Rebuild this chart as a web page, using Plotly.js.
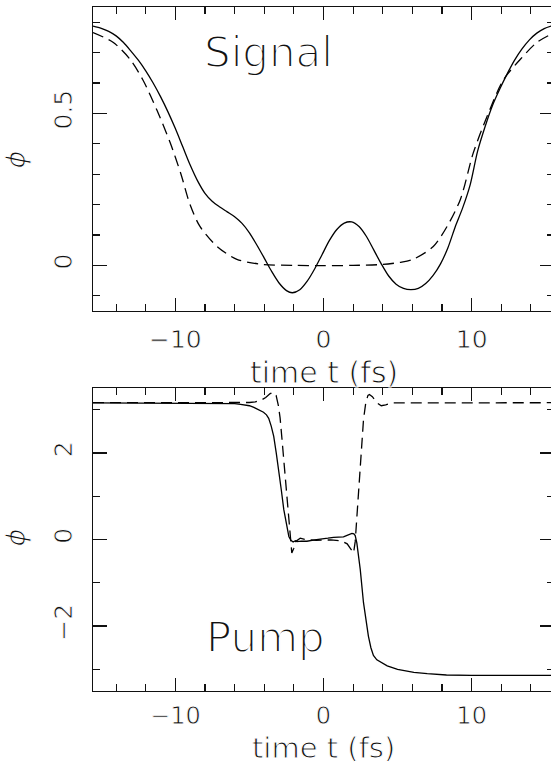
<!DOCTYPE html>
<html>
<head>
<meta charset="utf-8">
<script src="https://cdn.plot.ly/plotly-3.0.1.min.js"></script>
<style>
  html, body { margin: 0; padding: 0; background: #fff; overflow: hidden; }
  #chart { width: 554px; height: 769px; }
  /* thin, plotter-style lettering: a white outline painted over the glyph fill */
  #chart .xtick text, #chart .ytick text,
  #chart .x2tick text, #chart .y2tick text { stroke: #fff; stroke-width: 0.8px; }
  #chart g.annotation[data-index="0"] text,
  #chart g.annotation[data-index="1"] text { stroke: #fff; stroke-width: 1.9px; }
  #chart g.annotation[data-index="2"] text,
  #chart g.annotation[data-index="3"] text,
  #chart g.annotation[data-index="4"] text,
  #chart g.annotation[data-index="5"] text { stroke: #fff; stroke-width: 1.0px; }
</style>
</head>
<body>
<div id="chart"></div>
<script>
// Signal phase: solid and dashed curves
const tSignalSolid = [-15.56, -15.0, -14.5, -14.0, -13.5, -13.0, -12.5, -12.0, -11.5, -11.0, -10.5, -10.0, -9.5, -9.0, -8.5, -8.0, -7.5, -7.0, -6.5, -6.0, -5.5, -5.0, -4.5, -4.0, -3.5, -3.0, -2.5, -2.1, -1.6, -1.1, -0.6, -0.1, 0.4, 0.9, 1.4, 1.9, 2.4, 2.9, 3.4, 3.9, 4.4, 4.9, 5.4, 5.9, 6.4, 6.9, 7.4, 7.9, 8.4, 8.9, 9.4, 9.9, 10.4, 10.9, 11.4, 11.9, 12.4, 12.9, 13.4, 13.9, 14.4, 14.9, 15.56];
const phiSignalSolid = [0.787, 0.780, 0.770, 0.755, 0.733, 0.705, 0.675, 0.640, 0.600, 0.555, 0.505, 0.450, 0.390, 0.330, 0.278, 0.237, 0.210, 0.192, 0.176, 0.160, 0.138, 0.107, 0.067, 0.024, -0.020, -0.058, -0.083, -0.090, -0.080, -0.052, -0.012, 0.035, 0.082, 0.118, 0.139, 0.143, 0.128, 0.095, 0.050, 0.005, -0.035, -0.062, -0.076, -0.080, -0.076, -0.060, -0.033, 0.005, 0.058, 0.128, 0.190, 0.265, 0.375, 0.455, 0.525, 0.580, 0.630, 0.675, 0.712, 0.742, 0.764, 0.779, 0.790];

const tSignalDashed = [-15.56, -14.21, -13.06, -12.18, -11.24, -10.36, -9.62, -9.01, -8.34, -7.18, -5.85, -4.07, -2.0, 0.0, 2.0, 4.0, 5.18, 6.06, 7.41, 8.34, 9.24, 10.11, 11.04, 12.14, 13.29, 14.42, 15.56];
const phiSignalDashed = [0.766, 0.734, 0.678, 0.609, 0.510, 0.405, 0.300, 0.200, 0.128, 0.062, 0.020, 0.003, 0.000, -0.001, 0.000, 0.003, 0.010, 0.020, 0.062, 0.128, 0.217, 0.370, 0.490, 0.610, 0.678, 0.734, 0.765];

// Pump phase: solid and dashed curves
const tPumpSolid = [-15.56, -10.0, -7.0, -6.0, -5.6, -5.0, -4.7, -4.3, -4.05, -3.85, -3.7, -3.53, -3.36, -3.19, -3.02, -2.85, -2.68, -2.51, -2.34, -2.2, -2.05, -1.9, -1.8, -1.5, -1.12, -0.6, -0.22, 0.3, 0.68, 1.0, 1.35, 1.55, 1.69, 1.92, 2.05, 2.14, 2.25, 2.36, 2.48, 2.7, 2.85, 3.03, 3.2, 3.37, 3.6, 4.0, 4.3, 5.0, 6.1, 7.0, 8.3, 10.0, 15.56];
const phiPumpSolid = [3.155, 3.155, 3.15, 3.14, 3.12, 3.09, 3.05, 2.99, 2.94, 2.88, 2.80, 2.62, 2.38, 2.00, 1.61, 1.15, 0.69, 0.33, 0.07, -0.02, -0.06, -0.03, -0.05, -0.04, -0.04, -0.01, 0.00, 0.03, 0.05, 0.05, 0.06, 0.09, 0.115, 0.14, 0.13, 0.09, -0.08, -0.38, -0.69, -1.46, -1.85, -2.23, -2.50, -2.68, -2.78, -2.87, -2.92, -3.00, -3.07, -3.10, -3.13, -3.14, -3.14];

const tPumpDashed = [-15.56, -6.0, -5.0, -4.6, -4.2, -3.9, -3.6, -3.4, -3.2, -3.05, -2.93, -2.81, -2.7, -2.58, -2.47, -2.36, -2.25, -2.14, -2.0, -1.9, -1.57, -1.2, -0.5, 0.5, 1.2, 1.6, 1.8, 2.03, 2.14, 2.25, 2.36, 2.48, 2.6, 2.7, 2.85, 3.0, 3.1, 3.3, 3.6, 3.9, 4.2, 4.6, 15.56];
const phiPumpDashed = [3.16, 3.16, 3.165, 3.18, 3.22, 3.28, 3.37, 3.40, 3.33, 3.10, 2.81, 2.35, 1.90, 1.40, 0.85, 0.40, 0.05, -0.31, -0.20, -0.05, 0.03, 0.00, -0.02, -0.01, -0.03, -0.10, -0.20, -0.31, -0.05, 0.46, 1.05, 1.62, 2.20, 2.77, 3.15, 3.33, 3.35, 3.30, 3.16, 3.09, 3.11, 3.155, 3.16];

const xTitle = 'time t (fs)';
const yTitle = '<i>ϕ</i>';

const FONT = 'DejaVu Sans, Liberation Sans, sans-serif';
const INK = '#111';
const thinFont = (size) => ({ family: FONT, size: size, color: INK });

const solidLine = { color: '#000', width: 1.3 };
const dashedLine = { color: '#000', width: 1.3, dash: '11px,6px' };

const traces = [
  { x: tSignalSolid, y: phiSignalSolid, xaxis: 'x', yaxis: 'y', mode: 'lines',
    line: Object.assign({ shape: 'spline', smoothing: 0.8 }, solidLine) },
  { x: tSignalDashed, y: phiSignalDashed, xaxis: 'x', yaxis: 'y', mode: 'lines',
    line: Object.assign({ shape: 'spline', smoothing: 0.8 }, dashedLine) },
  { x: tPumpSolid, y: phiPumpSolid, xaxis: 'x2', yaxis: 'y2', mode: 'lines', line: solidLine },
  { x: tPumpDashed, y: phiPumpDashed, xaxis: 'x2', yaxis: 'y2', mode: 'lines', line: dashedLine }
];

const frame = {
  showline: true, linecolor: INK, linewidth: 1.3, mirror: 'ticks',
  ticks: 'inside', tickcolor: INK, tickwidth: 1.2,
  showgrid: false, zeroline: false, fixedrange: true,
  tickfont: thinFont(25)
};

function xAxis(anchor, standoff, fontSize) {
  return Object.assign({}, frame, {
    anchor: anchor, range: [-15.56, 15.56], tick0: 0, dtick: 10, ticklen: 13,
    ticklabelstandoff: standoff, tickfont: thinFont(fontSize),
    minor: { dtick: 2, tick0: 0, ticklen: 7, ticks: 'inside', tickcolor: INK, tickwidth: 1.2, showgrid: false }
  });
}

function yAxis(anchor, domain, range, dtick, minorStep) {
  return Object.assign({}, frame, {
    anchor: anchor, domain: domain, range: range, tick0: 0, dtick: dtick, ticklen: 14,
    tickangle: -90, ticklabelstandoff: 10,
    minor: { dtick: minorStep, tick0: 0, ticklen: 7, ticks: 'inside', tickcolor: INK, tickwidth: 1.2, showgrid: false }
  });
}

const layout = {
  width: 554, height: 769,
  margin: { l: 93, r: 0, t: 7, b: 78 },
  paper_bgcolor: '#fff', plot_bgcolor: '#fff',
  showlegend: false,
  xaxis: xAxis('y', 6, 25),
  yaxis: yAxis('x', [0.5556, 1], [-0.15, 0.85], 0.5, 0.1),
  xaxis2: xAxis('y2', 3, 24),
  yaxis2: yAxis('x2', [0, 0.443], [-3.5, 3.5], 2, 1),
  annotations: [
    { text: 'Signal', xref: 'x', yref: 'y', x: -3.7, y: 0.70, showarrow: false,
      xanchor: 'center', yanchor: 'middle', font: thinFont(42) },
    { text: 'Pump', xref: 'x2', yref: 'y2', x: -3.9, y: -2.26, showarrow: false,
      xanchor: 'center', yanchor: 'middle', font: thinFont(42) },
    { text: xTitle, xref: 'x', yref: 'paper', x: 0, y: 0.465, showarrow: false,
      xanchor: 'center', yanchor: 'middle', borderpad: 0, font: thinFont(30) },
    { text: xTitle, xref: 'x2', yref: 'paper', x: 0, y: -0.083, showarrow: false,
      xanchor: 'center', yanchor: 'middle', borderpad: 0, font: thinFont(29) },
    { text: yTitle, xref: 'paper', yref: 'y', x: -0.169, y: 0.349, showarrow: false,
      xanchor: 'center', yanchor: 'middle', textangle: -90, borderpad: 0, font: thinFont(27) },
    { text: yTitle, xref: 'paper', yref: 'y2', x: -0.169, y: 0.05, showarrow: false,
      xanchor: 'center', yanchor: 'middle', textangle: -90, borderpad: 0, font: thinFont(27) }
  ]
};

Plotly.newPlot('chart', traces, layout, { staticPlot: true, displayModeBar: false });
</script>
</body>
</html>
